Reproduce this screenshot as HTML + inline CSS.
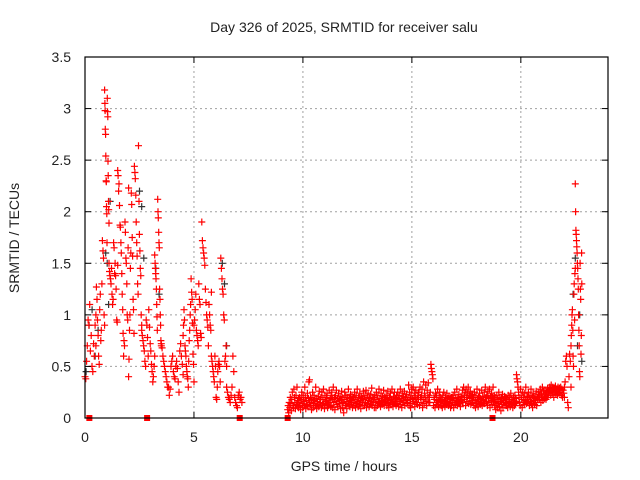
<!DOCTYPE html>
<html><head><meta charset="utf-8"><style>
body{margin:0;background:#fff}
svg{display:block;font-family:"Liberation Sans",sans-serif}
</style></head><body>
<svg id="c" width="640" height="480" viewBox="0 0 640 480">
<text x="344" y="32" font-size="14" text-anchor="middle" fill="#222">Day 326 of 2025, SRMTID for receiver salu</text>
<text x="344" y="471" font-size="14" text-anchor="middle" fill="#222">GPS time / hours</text>
<text x="19" y="238" font-size="14" text-anchor="middle" fill="#222" transform="rotate(-90 19 238)">SRMTID / TECUs</text>
<g id="grid"></g>
<g id="marks"></g>
<g id="axes"></g>
</svg>
<script>
const xTicks=[0,5,10,15,20];
const yTicks=[0,0.5,1,1.5,2,2.5,3,3.5];
const yTickLabels=["0","0.5","1","1.5","2","2.5","3","3.5"];
const gapTimes=[0.2,2.85,7.1,9.3,18.7];
// red groups: [startHour, endHour, values]
const redGroups=[
[0.0,0.5,[0.4,0.38,0.55,0.7,0.95,0.9,1.1,0.65,0.8,0.5,0.45,0.72,0.6,0.9,1.0]],
[0.5,0.9,[0.7,1.27,1.15,0.95,0.8,0.6,0.52,1.05,1.2,0.75,0.85,1.3,1.72,1.62,1.55,1.0,0.9]],
[0.9,1.1,[3.18,3.05,2.98,2.8,2.75,2.54,2.3,2.29,2.05,1.98,1.7,3.1,2.97,2.92,2.49,2.35,2.1,2.02,1.89]],
[1.1,1.5,[1.5,1.42,1.38,1.35,1.3,1.45,1.2,1.1,1.15,1.7,1.65,1.4,1.5,1.38,1.25,0.95,0.93,1.48]],
[1.5,2.0,[2.4,2.35,2.2,2.27,2.06,1.87,1.85,1.7,1.6,1.4,1.2,1.05,0.82,0.6,0.75,0.7,1.9,1.8,1.55,1.5,1.3,1.0,0.95,1.65,2.23]],
[2.0,2.6,[0.4,0.57,0.85,1.0,1.45,1.6,2.18,2.07,1.75,1.57,1.15,1.05,0.82,2.44,2.38,2.32,2.16,1.9,1.7,1.57,1.3,1.2,2.64,2.1,1.78,1.62,1.45,1.38,1.0,0.9]],
[2.6,3.2,[0.85,0.8,0.75,0.7,0.65,0.55,0.5,0.95,0.9,0.78,0.6,1.05,0.88,0.72,0.65,0.52,0.45,0.35,0.4,0.5,0.6]],
[3.2,3.5,[1.58,1.5,1.45,1.4,1.35,1.25,1.1,0.98,0.85,2.12,2.0,1.94,1.8,1.7,1.65,1.25,1.15,1.0,0.9,0.75,0.7]],
[3.5,4.5,[0.72,0.68,0.6,0.55,0.5,0.45,0.4,0.35,0.3,0.3,0.22,0.28,0.5,0.55,0.6,0.45,0.4,0.38,0.5,0.55,0.48,0.35,0.25,0.65,0.72,0.6,0.52,0.42]],
[4.5,5.0,[0.8,0.9,1.05,0.95,0.7,0.65,0.6,0.5,0.45,0.4,0.38,0.3,0.55,0.75,0.85,1.0,1.1,1.35,1.22,1.15,0.92,0.62,0.52,0.35]],
[5.0,5.8,[0.9,0.95,1.05,1.2,0.85,0.8,0.75,0.7,1.3,1.15,1.1,0.82,0.78,1.9,1.72,1.65,1.6,1.55,1.48,1.25,1.12,1.0,0.95,0.88,0.7,1.1,1.0,0.9,0.85,1.22]],
[5.8,6.5,[0.6,0.55,0.5,0.45,0.4,0.35,0.6,0.5,0.2,0.18,0.3,0.45,0.52,0.55,0.5,0.35,1.55,1.45,1.35,1.25,1.2,1.0,0.95,0.55,0.6,0.7,0.5]],
[6.5,7.2,[0.3,0.25,0.2,0.18,0.15,0.22,0.3,0.6,0.45,0.2,0.15,0.12,0.1,0.22,0.25,0.18,0.2,0.15]],
[9.3,9.8,[.08,.12,.05,.15,.1,.2,.14,.07,.18,.25,.12,.1,.28,.2,.15,.09,.22,.13,.3,.17,.11,.19]],
[9.8,10.3,[.1,.15,.2,.12,.08,.18,.25,.14,.1,.22,.16,.12,.3,.2,.09,.17,.13,.24,.11,.19,.35,.15]],
[10.3,10.8,[.37,.12,.2,.15,.08,.18,.25,.1,.14,.22,.17,.12,.3,.19,.09,.16,.13,.21,.11,.26,.15,.18]],
[10.8,11.3,[.15,.2,.1,.25,.12,.18,.28,.14,.09,.22,.16,.13,.2,.24,.1,.17,.12,.27,.15,.19,.11,.22]],
[11.3,11.8,[.12,.25,.18,.1,.3,.15,.2,.08,.22,.16,.27,.13,.19,.11,.24,.17,.14,.21,.09,.18,.26,.15]],
[11.8,12.3,[.2,.1,.15,.05,.18,.25,.12,.22,.14,.09,.2,.16,.28,.13,.19,.11,.23,.17,.15,.21,.1,.18]],
[12.3,12.8,[.15,.2,.12,.25,.18,.1,.22,.14,.28,.16,.11,.2,.13,.24,.17,.09,.21,.15,.19,.12,.26,.18]],
[12.8,13.3,[.18,.12,.22,.15,.27,.1,.2,.14,.24,.17,.11,.19,.13,.23,.16,.29,.12,.2,.15,.18,.1,.22]],
[13.3,13.8,[.2,.15,.1,.25,.18,.12,.22,.16,.28,.14,.19,.11,.24,.17,.13,.21,.15,.27,.12,.2,.16,.18]],
[13.8,14.3,[.15,.22,.12,.19,.26,.14,.1,.2,.17,.24,.13,.18,.28,.15,.11,.21,.16,.25,.14,.19,.12,.22]],
[14.3,14.8,[.2,.14,.25,.18,.11,.22,.16,.28,.13,.19,.1,.24,.17,.21,.15,.26,.12,.2,.18,.23,.14,.17]],
[14.8,15.3,[.15,.2,.32,.12,.25,.18,.1,.22,.28,.14,.19,.3,.16,.24,.11,.2,.27,.15,.18,.13,.22,.25]],
[15.3,15.8,[.18,.25,.12,.3,.2,.15,.22,.28,.1,.18,.35,.14,.24,.2,.32,.16,.12,.27,.2,.34,.15,.22]],
[15.8,16.3,[.2,.15,.25,.52,.48,.45,.42,.38,.12,.2,.18,.1,.24,.15,.22,.13,.28,.17,.11,.2,.25,.16]],
[16.3,16.8,[.15,.2,.12,.18,.1,.22,.14,.25,.17,.11,.2,.16,.13,.24,.15,.19,.12,.21,.14,.18,.1,.2]],
[16.8,17.3,[.18,.12,.2,.15,.22,.1,.17,.25,.13,.19,.15,.28,.12,.2,.16,.23,.14,.18,.11,.21,.17,.15]],
[17.3,17.8,[.2,.27,.15,.3,.22,.18,.25,.12,.28,.2,.16,.24,.3,.14,.22,.19,.26,.13,.21,.17,.23,.15]],
[17.8,18.3,[.15,.2,.12,.25,.17,.1,.22,.14,.28,.18,.11,.2,.16,.24,.13,.19,.15,.27,.12,.21,.17,.14]],
[18.3,18.8,[.18,.25,.14,.3,.2,.16,.22,.12,.26,.19,.15,.28,.1,.21,.17,.24,.13,.2,.3,.16,.22,.18]],
[18.8,19.3,[.12,.2,.08,.15,.22,.1,.18,.14,.25,.11,.19,.16,.07,.2,.13,.23,.1,.17,.15,.21,.12,.18]],
[19.3,19.8,[.15,.2,.12,.18,.1,.22,.14,.16,.2,.11,.24,.13,.18,.15,.1,.2,.17,.12,.22,.14,.19,.16]],
[19.8,20.3,[.42,.38,.35,.3,.25,.2,.15,.12,.28,.22,.18,.1,.25,.15,.2,.13,.24,.17,.3,.14,.21,.16]],
[20.3,20.8,[.2,.15,.25,.18,.12,.22,.16,.28,.14,.2,.1,.24,.17,.21,.13,.19,.15,.26,.12,.2,.18,.23]],
[20.8,21.3,[.2,.25,.18,.22,.28,.15,.24,.2,.3,.17,.26,.21,.19,.27,.23,.18,.25,.2,.29,.22,.24,.26]],
[21.3,21.8,[.25,.3,.28,.22,.32,.26,.24,.3,.27,.2,.29,.25,.31,.23,.28,.26,.22,.3,.27,.24,.29,.25]],
[21.8,22.0,[.25,.3,.22,.28,.2,.27,.24,.3]],
[22.0,22.3,[0.2,0.35,0.55,0.6,0.5,0.15,0.1,0.4,0.62,0.55,0.3]],
[22.3,22.5,[0.7,0.8,0.9,1.0,1.05,0.85,0.6,0.5,1.2,1.3,0.95,1.4,1.45]],
[22.5,22.8,[2.27,2.0,1.82,1.78,1.72,1.66,1.6,1.5,1.45,1.35,1.25,1.0,0.85,0.7,0.45,0.4,1.5,1.25,1.15,0.62,0.8,1.6,1.3]]
];
const blackGroups=[
[0.05,0.6,[0.45,0.9,1.05,0.6,0.85]],
[0.95,1.15,[1.6,1.5,1.1,2.1]],
[2.5,2.7,[2.2,2.05,1.55]],
[3.25,3.4,[1.45,1.2]],
[6.3,6.5,[1.5,1.3,0.7]],
[22.4,22.8,[1.2,1.55,0.7,1.0,0.55]]
];
const X0=85,X1=608,Y0=418,Y1=57,XMAX=24,YMAX=3.5;
const sx=v=>X0+(X1-X0)*v/XMAX;
const sy=v=>Y0-(Y0-Y1)*v/YMAX;
const NS="http://www.w3.org/2000/svg";
function mk(tag,attrs,parent){const e=document.createElementNS(NS,tag);for(const k in attrs)e.setAttribute(k,attrs[k]);parent.appendChild(e);return e;}
const grid=document.getElementById('grid'),marks=document.getElementById('marks'),axes=document.getElementById('axes');
xTicks.forEach(t=>{
  if(t>0){const l=mk('line',{x1:sx(t),x2:sx(t),y1:Y0,y2:Y1,stroke:'#a0a0a0','stroke-dasharray':'2,3'},grid);
  
  }
  const tx=mk('text',{x:sx(t),y:Y0+24,'font-size':14,'text-anchor':'middle',fill:'#222'},axes);tx.textContent=String(t);
  
  
  mk('line',{x1:sx(t),x2:sx(t),y1:Y0,y2:Y0-6,stroke:'#000'},axes);
  mk('line',{x1:sx(t),x2:sx(t),y1:Y1,y2:Y1+6,stroke:'#000'},axes);
});
yTicks.forEach((t,i)=>{
  if(t>0&&t<YMAX){const l=mk('line',{x1:X0,x2:X1,y1:sy(t),y2:sy(t),stroke:'#a0a0a0','stroke-dasharray':'2,3'},grid);
  
  }
  const tx=mk('text',{x:X0-14,y:sy(t)+5,'font-size':14,'text-anchor':'end',fill:'#222'},axes);tx.textContent=yTickLabels[i];
  
  
  mk('line',{x1:X0,x2:X0+6,y1:sy(t),y2:sy(t),stroke:'#000'},axes);
  mk('line',{x1:X1,x2:X1-6,y1:sy(t),y2:sy(t),stroke:'#000'},axes);
});
function plus(t,v,color,name){
  const x=sx(t),y=sy(v);
  const p=mk('path',{d:`M${(x-3.5).toFixed(1)} ${y.toFixed(1)}h7M${x.toFixed(1)} ${(y-3.5).toFixed(1)}v7`,stroke:color,'stroke-width':1.2,fill:'none'},marks);
  
  
}
function drawGroups(groups,color,name){
  groups.forEach(g=>{const [a,b,vals]=g;const n=vals.length;
    vals.forEach((v,i)=>plus(a+(n>1?(b-a)*i/(n-1):0),v,color,name));});
}
drawGroups(blackGroups,'#333','black-point');
drawGroups(redGroups,'#ff0000','red-point');
gapTimes.forEach(t=>{
  const r=mk('rect',{x:sx(t)-3,y:Y0-3,width:6,height:6,fill:'#ff0000'},marks);
  
  
});
const b=mk('rect',{x:X0,y:Y1,width:X1-X0,height:Y0-Y1,fill:'none',stroke:'#000','stroke-width':1.2},axes);


</script>
</body></html>
